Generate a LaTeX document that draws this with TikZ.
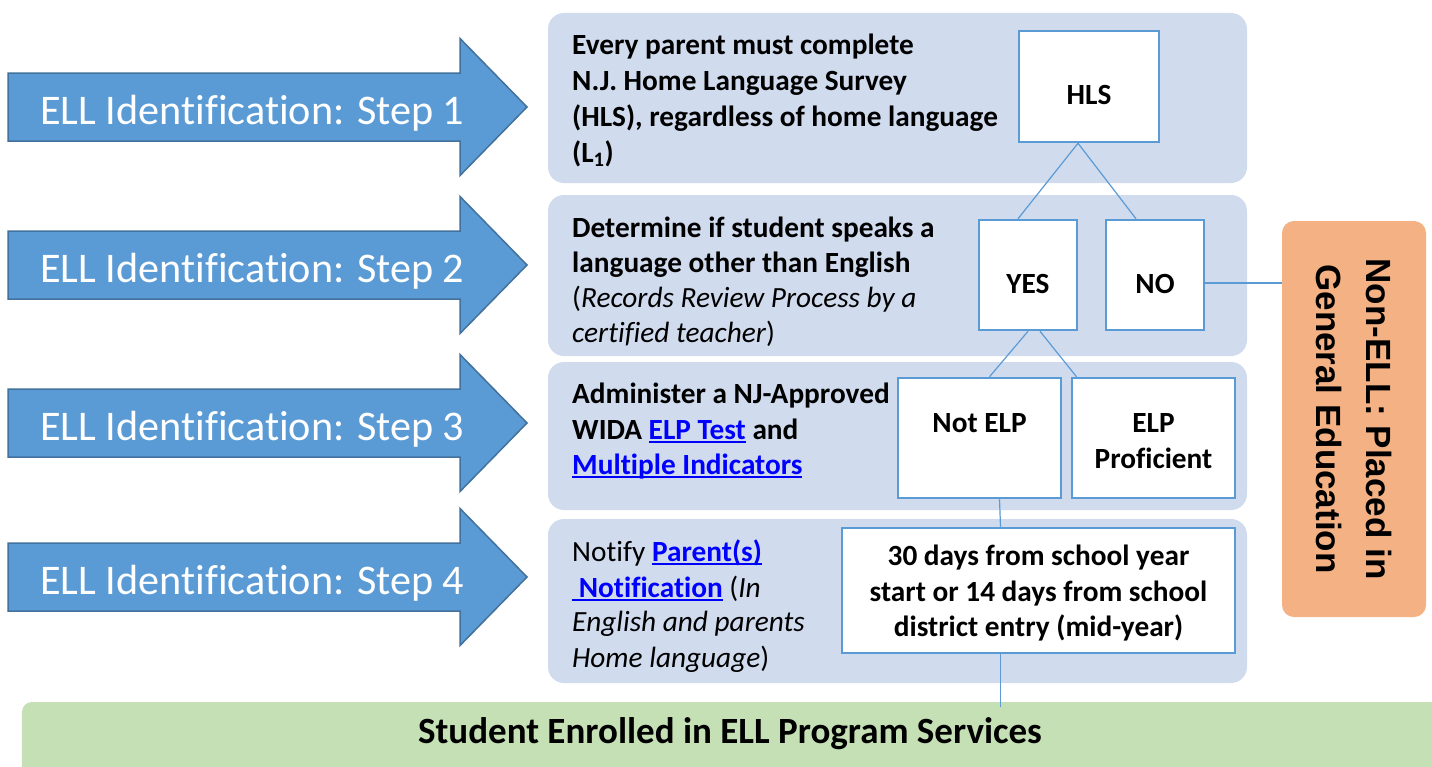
\documentclass[tikz,border=0pt]{standalone}
\usepackage{fontspec}
\setmainfont{Carlito}[Ligatures=NoCommon]
\newfontfamily\arialfont{Liberation Sans}
\usetikzlibrary{calc}
\definecolor{arrowfill}{HTML}{5B9BD5}
\definecolor{arrowline}{HTML}{41719C}
\definecolor{panelfill}{HTML}{D0DBEE}
\definecolor{boxline}{HTML}{5B9BD5}
\definecolor{greenfill}{HTML}{C5E0B4}
\definecolor{orangefill}{HTML}{F4B183}
\definecolor{linkblue}{HTML}{0000FF}
\newsavebox\ulbox
\newcommand\myul[1]{\sbox\ulbox{#1}\rlap{\rule[-3.5bp]{\wd\ulbox}{1.6bp}}\usebox\ulbox}
\newcommand\lnk[1]{{\color{linkblue}\bfseries\myul{#1}}}
\newcommand\pf{\fontsize{29.3bp}{35bp}\selectfont}
\newcommand\af{\fontsize{42.2bp}{48bp}\selectfont}
\newcommand\gf{\fontsize{37bp}{44bp}\selectfont\bfseries}
\newcommand\nf{\arialfont\bfseries\fontsize{35bp}{50bp}\selectfont}
\begin{document}
\begin{tikzpicture}[x=1bp,y=-1bp,
  panel/.style={fill=panelfill, rounded corners=16bp, inner sep=0, minimum width=699bp},
  box/.style={draw=boxline, line width=2.5bp, fill=white, inner sep=0},
  conn/.style={draw=boxline, line width=1.2bp},
  txt/.style={anchor=base west, inner sep=0, font=\pf},
  ctxt/.style={anchor=base, inner sep=0, font=\pf\bfseries},
  atxt/.style={anchor=base west, inner sep=0, text=white, font=\af},
  bigarrow/.style={fill=arrowfill, draw=arrowline, line width=1.5bp, line join=miter}]
\clip (0,0) rectangle (1432,766);
\fill[white] (0,0) rectangle (1432,766);

% step arrows
\foreach \c/\n in {107/1,265/2,423/3,577/4}{
  \draw[bigarrow] (8,\c-34) -- (460,\c-34) -- (460,\c-68.5) -- (527,\c) -- (460,\c+68.5) -- (460,\c+34) -- (8,\c+34) -- cycle;
  \node[atxt] (a\n) at (40,\c+17.5) {ELL Identification: Step \n};
}

% panels
\node[panel, minimum height=170bp] (p1) at (897.5,98) {};
\node[panel, minimum height=161bp] (p2) at (897.5,275.5) {};
\node[panel, minimum height=148bp] (p3) at (897.5,436) {};
\node[panel, minimum height=164bp] (p4) at (897.5,601) {};

% bottom bar
\node[fill=greenfill, rounded corners=10bp, minimum width=1430bp, minimum height=100bp, inner sep=0] (bar) at (737,752) {};
\node[anchor=base, inner sep=0, font=\gf] (enr) at (730,743) {Student Enrolled in ELL Program Services};

% non-ELL box
\node[fill=orangefill, rounded corners=12bp, minimum width=144bp, minimum height=396bp, inner sep=0] (nonell) at (1354,419) {};
\node[rotate=-90, font=\nf, align=center, inner sep=0] (nonelltxt) at (1354,419) {Non-ELL: Placed in\\General Education};

% decision boxes
\node[box, minimum width=140bp, minimum height=111bp] (hls) at (1089,86.5) {};
\node[box, minimum width=98bp, minimum height=110bp] (yes) at (1028,275) {};
\node[box, minimum width=98bp, minimum height=110bp] (no) at (1155,275) {};
\node[box, minimum width=163bp, minimum height=120bp] (notelp) at (979.5,438) {};
\node[box, minimum width=163bp, minimum height=120bp] (elp) at (1153.5,438) {};
\node[box, minimum width=393bp, minimum height=125bp] (days) at (1038.5,590.5) {};

% connectors
\draw[conn] ([xshift=-11bp]hls.south) -- ([xshift=-10bp]yes.north);
\draw[conn] ([xshift=-11bp]hls.south) -- ([xshift=-19bp]no.north);
\draw[conn] (yes.south) -- ([xshift=10bp]notelp.north);
\draw[conn] ([xshift=12bp]yes.south) -- ([xshift=-77bp]elp.north);
\draw[conn] ([xshift=20bp]notelp.south) -- ([xshift=-38bp]days.north);
\coordinate (dayout) at ([xshift=-38bp]days.south);
\draw[conn, shorten >=-5bp] (dayout) -- (dayout |- bar.north);
\coordinate (noout) at ([yshift=-8bp]no.east);
\draw[conn] (noout) -- (noout -| nonell.west);

% box texts
\node[ctxt] (thls) at (1089,104) {HLS};
\node[ctxt] (tyes) at (1028,293) {YES};
\node[ctxt] (tno) at (1155,293) {NO};
\node[ctxt] (tnotelp) at (979.5,432) {Not ELP};
\node[ctxt] (telp) at (1153.5,432) {ELP};
\node[ctxt] (tprof) at (1153.5,468) {Proficient};
\node[ctxt] (td1) at (1038.5,565) {30 days from school year};
\node[ctxt] (td2) at (1038.5,601) {start or 14 days from school};
\node[ctxt] (td3) at (1038.5,636) {district entry (mid-year)};

% panel texts
\node[txt, font=\pf\bfseries] (t1a) at (572,55) {Every parent must complete};
\node[txt, font=\pf\bfseries] (t1b) at (572,90) {N.J. Home Language Survey};
\node[txt, font=\pf\bfseries] (t1c) at (572,126) {(HLS), regardless of home language};
\node[txt, font=\pf\bfseries] (t1d) at (572,162) {(L\textsubscript{1})};

\node[txt, font=\pf\bfseries] (t2a) at (572,237) {Determine if student speaks a};
\node[txt, font=\pf\bfseries] (t2b) at (572,272) {language other than English};
\node[txt] (t2c) at (572,307) {(\textit{Records Review Process by a}};
\node[txt] (t2d) at (572,342) {\textit{certified teacher})};

\node[txt, font=\pf\bfseries] (t3a) at (572,403) {Administer a NJ-Approved};
\node[txt, font=\pf\bfseries] (t3b) at (572,439) {WIDA \lnk{ELP Test} and};
\node[txt, font=\pf\bfseries] (t3c) at (572,474) {\lnk{Multiple Indicators}};

\node[txt] (t4a) at (572,561) {Notify \lnk{Parent(s)}};
\node[txt] (t4b) at (572,597) {\lnk{\ Notification} (\textit{In}};
\node[txt] (t4c) at (572,631) {\textit{English and parents}};
\node[txt] (t4d) at (572,667) {\textit{Home language})};
\end{tikzpicture}
\end{document}
